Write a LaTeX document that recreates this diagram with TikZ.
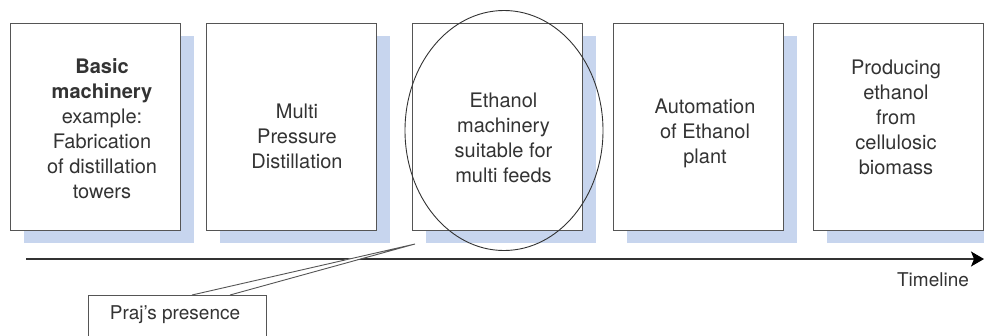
\documentclass[tikz,border=0pt]{standalone}
\usepackage{fontspec}
\setmainfont{TeX Gyre Heros}
\usetikzlibrary{shapes.geometric,shadows,arrows.meta}
\definecolor{shadowblue}{HTML}{C7D5EE}
\definecolor{edgegray}{HTML}{555555}
\definecolor{txtgray}{HTML}{333333}
\tikzset{
  stagebox/.style={draw=edgegray, line width=1.1pt, fill=white, rectangle,
    minimum width=170pt, minimum height=207pt, inner sep=0pt, anchor=north west,
    copy shadow={shadow xshift=13pt, shadow yshift=-12pt, fill=shadowblue, draw=none}},
  stagetext/.style={text=txtgray, align=center, font=\fontsize{20pt}{25pt}\selectfont, inner sep=0pt},
  callout/.style={draw=edgegray, line width=0.9pt, fill=white},
}
\begin{document}
\begin{tikzpicture}[x=1pt, y=-1pt]
\useasboundingbox (0,0) rectangle (984,335);

% stage boxes along the timeline
\node[stagebox] (b1) at (10,23) {};
\node[stagebox] (b2) at (206,23) {};
\node[stagebox] (b3) at (412,23) {};
\node[stagebox] (b4) at (613,23) {};
\node[stagebox] (b5) at (813,23) {};

\node[stagetext] (t1) at (102,129) {\textbf{Basic}\\\textbf{machinery}\\example:\\Fabrication\\of distillation\\towers};
\node[stagetext] (t2) at (297,136) {Multi\\Pressure\\Distillation};
\node[stagetext] (t3) at (503.5,137.5) {Ethanol\\machinery\\suitable for\\multi feeds};
\node[stagetext] (t4) at (705,133) {Automation\\of Ethanol\\plant};
\node[stagetext] (t5) at (896,117) {Producing\\ethanol\\from\\cellulosic\\biomass};

% ring around the current stage
\node[draw=txtgray, line width=0.9pt, ellipse, minimum width=198pt, minimum height=240pt, inner sep=0pt] (ring) at (504,130.5) {};

% timeline
\coordinate (tlstart) at (26,259);
\coordinate (tlend) at (984,259);
\draw[txtgray, line width=1.1pt, -{Stealth[length=13pt,width=15pt,inset=3pt,color=black]}] (tlstart) -- (tlend);
\node[stagetext, font=\fontsize{19pt}{23pt}\selectfont] (tllabel) at (933,280) {Timeline};

% callout
\node[callout, minimum width=178pt, minimum height=50pt, anchor=north west, inner sep=0pt] (praj) at (88,295) {};
\node[stagetext, font=\fontsize{19pt}{23pt}\selectfont] (prajtext) at (175,315) {Praj’s presence};
\coordinate (tip) at (415,244);
\coordinate (wl) at (192,295);
\coordinate (wr) at (230,295);
\fill[white] ([yshift=1pt]wl) -- (tip) -- ([yshift=1pt]wr) -- cycle;
\draw[edgegray, line width=0.9pt] (wl) -- (tip) -- (wr);
\end{tikzpicture}
\end{document}
